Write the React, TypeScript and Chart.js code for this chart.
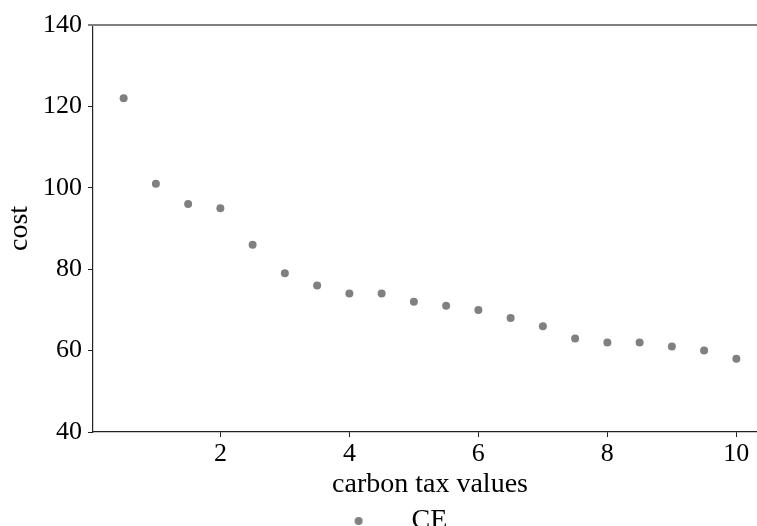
import React, { useEffect, useRef } from "react";
import { Chart, registerables } from "chart.js";

Chart.register(...registerables);

const taxValues = [0.5, 1, 1.5, 2, 2.5, 3, 3.5, 4, 4.5, 5, 5.5, 6, 6.5, 7, 7.5, 8, 8.5, 9, 9.5, 10];
const costValues = [122, 101, 96, 95, 86, 79, 76, 74, 74, 72, 71, 70, 68, 66, 63, 62, 62, 61, 60, 58];
const xTickValues = [2, 4, 6, 8, 10];
const yTickValues = [40, 60, 80, 100, 120, 140];
const seriesLabel = "CE";
const xTitle = "carbon tax values";
const yTitle = "cost";

const FONT = "'Liberation Serif', 'Times New Roman', serif";
const GREY = "#808080";
const AXIS = "#222222";

export default function App() {
  const canvasRef = useRef<HTMLCanvasElement | null>(null);

  useEffect(() => {
    const canvas = canvasRef.current;
    if (!canvas) return;

    const marker = document.createElement("canvas");
    marker.width = 10;
    marker.height = 10;
    const mctx = marker.getContext("2d");
    if (mctx) {
      mctx.fillStyle = GREY;
      mctx.beginPath();
      mctx.arc(5, 5, 4, 0, Math.PI * 2);
      mctx.fill();
    }

    const topLine = {
      id: "topLine",
      afterDraw(chart: any) {
        const { ctx, chartArea } = chart;
        ctx.save();
        ctx.strokeStyle = GREY;
        ctx.lineWidth = 2;
        ctx.beginPath();
        ctx.moveTo(chartArea.left - 5, chartArea.top);
        ctx.lineTo(chartArea.right + 20, chartArea.top);
        ctx.stroke();
        ctx.restore();
      },
    };

    const chart = new Chart(canvas, {
      type: "scatter",
      data: {
        datasets: [
          {
            label: seriesLabel,
            data: taxValues.map((x, i) => ({ x, y: costValues[i] })),
            backgroundColor: GREY,
            borderColor: GREY,
            pointRadius: 4,
            pointHoverRadius: 4,
            pointBorderWidth: 0,
          },
        ],
      },
      options: {
        animation: false,
        responsive: true,
        maintainAspectRatio: false,
        layout: { padding: { top: 25, left: 0, right: 13, bottom: 0 } },
        plugins: {
          tooltip: { enabled: false },
          legend: {
            position: "bottom",
            labels: {
              usePointStyle: true,
              pointStyle: marker as any,
              pointStyleWidth: 78,
              boxHeight: 8,
              padding: 6,
              color: "#000",
              font: { family: FONT, size: 28 },
            },
          },
        },
        scales: {
          x: {
            type: "linear",
            min: 0.025,
            max: 10.475,
            afterBuildTicks: (scale: any) => {
              scale.ticks = xTickValues.map((v) => ({ value: v }));
            },
            afterFit: (scale: any) => {
              scale.height = 69;
            },
            ticks: {
              color: "#000",
              padding: 2,
              font: { family: FONT, size: 26 },
            },
            grid: { drawOnChartArea: false, drawTicks: true, tickLength: 5, color: AXIS },
            border: { display: true, color: AXIS, width: 1.2 },
            title: {
              display: true,
              text: xTitle,
              color: "#000",
              padding: { top: 0, bottom: 0 },
              font: { family: FONT, size: 28 },
            },
          },
          y: {
            type: "linear",
            min: 40,
            max: 140,
            afterBuildTicks: (scale: any) => {
              scale.ticks = yTickValues.map((v) => ({ value: v }));
            },
            afterFit: (scale: any) => {
              scale.width = 93;
            },
            ticks: {
              color: "#000",
              padding: 6,
              font: { family: FONT, size: 26 },
            },
            grid: { drawOnChartArea: false, drawTicks: true, tickLength: 5, color: AXIS },
            border: { display: true, color: AXIS, width: 1.2 },
            title: {
              display: true,
              text: yTitle,
              color: "#000",
              padding: { top: 3, bottom: 0 },
              font: { family: FONT, size: 28 },
            },
          },
        },
      },
      plugins: [topLine],
    });

    return () => chart.destroy();
  }, []);

  return (
    <div
      style={{
        position: "fixed",
        left: 0,
        top: 0,
        width: 757,
        height: 526,
        overflow: "hidden",
        background: "#fff",
      }}
    >
      <div style={{ position: "relative", width: 780, height: 545 }}>
        <canvas ref={canvasRef} />
      </div>
    </div>
  );
}
